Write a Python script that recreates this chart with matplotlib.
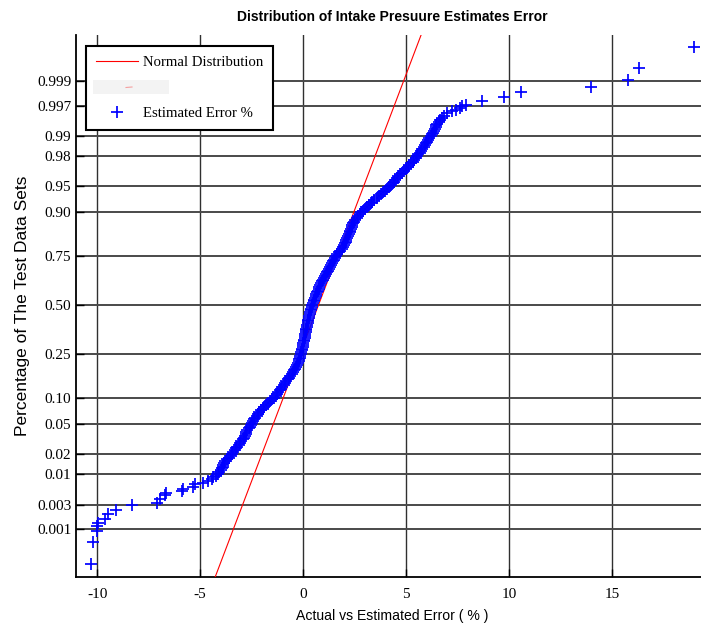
import math
import numpy as np
import matplotlib
matplotlib.use("Agg")
import matplotlib.pyplot as plt
from matplotlib import font_manager
from matplotlib.lines import Line2D
from matplotlib.patches import Rectangle
from matplotlib.ticker import NullLocator

# ---------------------------------------------------------------------------
# Data: sorted estimate errors (%) with their standard normal scores
# ---------------------------------------------------------------------------
# Normal distribution fitted to the errors
fit_mean = 0.75
fit_std = 1.34

# Sparse lower tail
lower_tail_err = [-10.29, -10.18, -10.03, -9.99, -9.95, -9.60, -9.47, -9.11,
                  -8.33, -7.09, -6.93, -6.72, -6.65, -5.90, -5.84, -5.36,
                  -5.23, -4.87, -4.60, -4.42]
lower_tail_score = [-3.56, -3.26, -3.11, -3.05, -3.00, -2.94, -2.88, -2.82,
                    -2.76, -2.72, -2.67, -2.62, -2.59, -2.56, -2.54, -2.50,
                    -2.47, -2.45, -2.43, -2.40]

# Dense body of the sample
band_score = [
    -2.375, -2.350, -2.325, -2.300, -2.275, -2.250, -2.225, -2.200, -2.175,
    -2.150, -2.125, -2.100, -2.075, -2.050, -2.025, -2.000, -1.975, -1.950,
    -1.925, -1.900, -1.875, -1.850, -1.825, -1.800, -1.775, -1.750, -1.725,
    -1.700, -1.675, -1.650, -1.625, -1.600, -1.575, -1.550, -1.525, -1.500,
    -1.475, -1.450, -1.425, -1.400, -1.375, -1.350, -1.325, -1.300, -1.275,
    -1.250, -1.225, -1.200, -1.175, -1.150, -1.125, -1.100, -1.075, -1.050,
    -1.025, -1.000, -0.975, -0.950, -0.925, -0.900, -0.875, -0.850, -0.825,
    -0.800, -0.775, -0.750, -0.725, -0.700, -0.675, -0.650, -0.625, -0.600,
    -0.575, -0.550, -0.525, -0.500, -0.475, -0.450, -0.425, -0.400, -0.375,
    -0.350, -0.325, -0.300, -0.275, -0.250, -0.225, -0.200, -0.175, -0.150,
    -0.125, -0.100, -0.075, -0.050, -0.025, 0.000, 0.025, 0.050, 0.075,
    0.100, 0.125, 0.150, 0.175, 0.200, 0.225, 0.250, 0.275, 0.300,
    0.325, 0.350, 0.375, 0.400, 0.425, 0.450, 0.475, 0.500, 0.525,
    0.550, 0.575, 0.600, 0.625, 0.650, 0.675, 0.700, 0.725, 0.750,
    0.775, 0.800, 0.825, 0.850, 0.875, 0.900, 0.925, 0.950, 0.975,
    1.000, 1.025, 1.050, 1.075, 1.100, 1.125, 1.150, 1.175, 1.200,
    1.225, 1.250, 1.275, 1.300, 1.325, 1.350, 1.375, 1.400, 1.425,
    1.450, 1.475, 1.500, 1.525, 1.550, 1.575, 1.600, 1.625, 1.650,
    1.675, 1.700, 1.725, 1.750, 1.775, 1.800, 1.825, 1.850, 1.875,
    1.900, 1.925, 1.950, 1.975, 2.000, 2.025, 2.050, 2.075, 2.100,
    2.125, 2.150, 2.175, 2.200, 2.225, 2.250, 2.275, 2.300, 2.325,
    2.350, 2.375, 2.400, 2.425, 2.450, 2.475, 2.500, 2.525, 2.550,
    2.575]
band_err = [
    -4.37, -4.25, -4.14, -4.06, -3.99, -3.95, -3.91, -3.87, -3.83,
    -3.77, -3.68, -3.60, -3.52, -3.44, -3.38, -3.32, -3.26, -3.20,
    -3.13, -3.07, -3.00, -2.94, -2.89, -2.84, -2.79, -2.75, -2.71,
    -2.65, -2.58, -2.51, -2.46, -2.42, -2.37, -2.33, -2.26, -2.19,
    -2.12, -2.05, -1.97, -1.89, -1.81, -1.70, -1.59, -1.49, -1.39,
    -1.32, -1.26, -1.20, -1.13, -1.07, -1.00, -0.94, -0.88, -0.81,
    -0.75, -0.68, -0.62, -0.56, -0.50, -0.44, -0.39, -0.34, -0.28,
    -0.23, -0.21, -0.19, -0.16, -0.14, -0.12, -0.10, -0.07, -0.05,
    -0.02, 0.00, 0.02, 0.04, 0.06, 0.08, 0.09, 0.11, 0.13,
    0.15, 0.16, 0.18, 0.20, 0.22, 0.23, 0.25, 0.27, 0.30,
    0.32, 0.35, 0.37, 0.39, 0.42, 0.44, 0.48, 0.51, 0.55,
    0.58, 0.62, 0.65, 0.69, 0.72, 0.76, 0.79, 0.83, 0.88,
    0.92, 0.97, 1.01, 1.05, 1.10, 1.14, 1.19, 1.24, 1.29,
    1.35, 1.40, 1.45, 1.50, 1.55, 1.60, 1.67, 1.74, 1.81,
    1.88, 1.95, 1.99, 2.03, 2.07, 2.11, 2.15, 2.19, 2.23,
    2.26, 2.30, 2.33, 2.37, 2.40, 2.44, 2.47, 2.52, 2.60,
    2.67, 2.75, 2.83, 2.92, 3.01, 3.10, 3.19, 3.28, 3.37,
    3.47, 3.57, 3.67, 3.78, 3.88, 3.98, 4.09, 4.19, 4.28,
    4.35, 4.42, 4.48, 4.55, 4.62, 4.72, 4.82, 4.90, 4.99,
    5.08, 5.16, 5.25, 5.32, 5.39, 5.47, 5.54, 5.60, 5.67,
    5.73, 5.80, 5.86, 5.92, 5.98, 6.04, 6.09, 6.14, 6.20,
    6.25, 6.29, 6.34, 6.39, 6.45, 6.48, 6.53, 6.59, 6.66,
    6.74]

# Sparse upper tail
upper_tail_err = [6.83, 6.99, 7.23, 7.44, 7.60, 7.72, 7.93, 8.69, 9.77,
                  10.60, 13.98, 15.78, 16.34, 18.99]
upper_tail_score = [2.61, 2.64, 2.67, 2.69, 2.71, 2.74, 2.76, 2.81, 2.86,
                    2.93, 3.00, 3.10, 3.26, 3.55]

prob_ticks = [0.001, 0.003, 0.01, 0.02, 0.05, 0.10, 0.25, 0.50, 0.75, 0.90,
              0.95, 0.98, 0.99, 0.997, 0.999]
prob_tick_labels = ['0.001', '0.003', '0.01', '0.02', '0.05', '0.10', '0.25',
                    '0.50', '0.75', '0.90', '0.95', '0.98', '0.99', '0.997',
                    '0.999']
err_ticks = [-10, -5, 0, 5, 10, 15]
err_tick_labels = ['-10', '-5', '0', '5', '10', '15']

# ---------------------------------------------------------------------------
# Normal probability (probit) scale
# ---------------------------------------------------------------------------
_A = [-3.969683028665376e+01, 2.209460984245205e+02, -2.759285104469687e+02,
      1.383577518672690e+02, -3.066479806614716e+01, 2.506628277459239e+00]
_B = [-5.447609879822406e+01, 1.615858368580409e+02, -1.556989798598866e+02,
      6.680131188771972e+01, -1.328068155288572e+01]
_C = [-7.784894002430293e-03, -3.223964580411365e-01, -2.400758277161838e+00,
      -2.549732539343734e+00, 4.374664141464968e+00, 2.938163982698783e+00]
_D = [7.784695709041462e-03, 3.224671290700398e-01, 2.445134137142996e+00,
      3.754408661907416e+00]
_P_LOW = 0.02425


def _tail(q):
    num = ((((_C[0] * q + _C[1]) * q + _C[2]) * q + _C[3]) * q + _C[4]) * q + _C[5]
    den = (((_D[0] * q + _D[1]) * q + _D[2]) * q + _D[3]) * q + 1.0
    return num / den


def norm_ppf(p):
    arr = np.asarray(p, dtype=float)
    shape = arr.shape
    p1 = np.clip(np.atleast_1d(arr).ravel(), 1e-12, 1 - 1e-12)
    z = np.empty_like(p1)
    lo = p1 < _P_LOW
    hi = p1 > 1 - _P_LOW
    mid = ~(lo | hi)
    z[lo] = _tail(np.sqrt(-2.0 * np.log(p1[lo])))
    z[hi] = -_tail(np.sqrt(-2.0 * np.log(1.0 - p1[hi])))
    q = p1[mid] - 0.5
    r = q * q
    num = (((((_A[0] * r + _A[1]) * r + _A[2]) * r + _A[3]) * r + _A[4]) * r + _A[5]) * q
    den = ((((_B[0] * r + _B[1]) * r + _B[2]) * r + _B[3]) * r + _B[4]) * r + 1.0
    z[mid] = num / den
    return z.reshape(shape)


_erf = np.vectorize(math.erf, otypes=[float])


def norm_cdf(z):
    arr = np.asarray(z, dtype=float)
    arr = np.nan_to_num(arr, nan=0.0, posinf=40.0, neginf=-40.0)
    return 0.5 * (1.0 + _erf(arr / math.sqrt(2.0)))


# ---------------------------------------------------------------------------
# Fonts
# ---------------------------------------------------------------------------
def _has_font(name):
    try:
        font_manager.findfont(font_manager.FontProperties(family=name),
                              fallback_to_default=False)
        return True
    except Exception:
        return False


if _has_font('Liberation Sans Narrow'):
    narrow_family = ['Liberation Sans Narrow', 'DejaVu Sans']
    title_size, xlabel_size = 12.2, 12.3
else:
    narrow_family = ['Liberation Sans', 'DejaVu Sans']
    title_size, xlabel_size = 10.0, 10.1
sans_family = ['Liberation Sans', 'DejaVu Sans']
serif_family = ['Liberation Serif', 'DejaVu Serif']

# ---------------------------------------------------------------------------
# Figure
# ---------------------------------------------------------------------------
W, H = 701, 628
fig = plt.figure(figsize=(W / 100, H / 100), dpi=100)
fig.patch.set_facecolor('white')
ax = fig.add_axes([76 / W, 51 / H, 633 / W, 542 / H])

ax.set_yscale('function', functions=(norm_ppf, norm_cdf))
p_lo, p_hi = 0.00009, 0.9999
ax.set_xlim(-11.03, 19.72)
ax.set_ylim(p_lo, p_hi)

# fitted normal line across the whole probability range
fit_x = [fit_mean + fit_std * float(norm_ppf(p_lo)),
         fit_mean + fit_std * float(norm_ppf(p_hi))]
ax.plot(fit_x, [p_lo, p_hi], color='red', lw=0.8, zorder=3)

marker_kw = dict(linestyle='none', marker='+', color='#0000ff',
                 markersize=8.5, markeredgewidth=1.25, zorder=4)
ax.plot(lower_tail_err, norm_cdf(lower_tail_score), **marker_kw)
ax.plot(band_err, norm_cdf(band_score), **marker_kw)
ax.plot(upper_tail_err, norm_cdf(upper_tail_score), **marker_kw)

# ticks and grid
ax.set_yticks(prob_ticks)
ax.set_yticklabels(prob_tick_labels)
ax.yaxis.set_minor_locator(NullLocator())
ax.set_xticks(err_ticks)
ax.set_xticklabels(err_tick_labels)
ax.xaxis.set_minor_locator(NullLocator())
ax.tick_params(axis='both', direction='in', length=6, width=1.0,
               color='black', labelsize=11)
ax.tick_params(axis='x', pad=8)
ax.tick_params(axis='y', pad=3.5)
for lab in ax.get_xticklabels() + ax.get_yticklabels():
    lab.set_family(serif_family)

ax.grid(True, axis='y', color='#4a4a4a', lw=1.4, zorder=1)
ax.grid(True, axis='x', color='#303030', lw=1.0, zorder=1)
ax.set_axisbelow(True)

for side in ('top', 'right'):
    ax.spines[side].set_visible(False)
for side in ('left', 'bottom'):
    ax.spines[side].set_linewidth(1.3)
    ax.spines[side].set_color('black')

ax.set_title('Distribution of Intake Presuure Estimates Error',
             family=narrow_family, fontsize=title_size, fontweight='bold',
             pad=10)
ax.set_xlabel('Actual vs Estimated Error ( % )', family=narrow_family,
              fontsize=xlabel_size, labelpad=6)
ax.set_ylabel('Percentage of The Test Data Sets', family=sans_family,
              fontsize=12.5)
ax.yaxis.set_label_coords(-0.072, 0.5)

# legend
handles = [Line2D([], [], color='red', lw=0.8),
           Line2D([], [], linestyle='none'),
           Line2D([], [], linestyle='none', marker='+', color='#0000ff',
                  markersize=8.5, markeredgewidth=1.25)]
labels = ['Normal Distribution', ' ', 'Estimated Error %']
leg = ax.legend(handles, labels, loc='upper left',
                bbox_to_anchor=(10 / 633, (577 - 46) / 542),
                borderaxespad=0, frameon=True, fancybox=False,
                edgecolor='black', facecolor='white', framealpha=1,
                prop=font_manager.FontProperties(family=serif_family, size=10.6),
                handlelength=2.86, handletextpad=0.34, labelspacing=0.84,
                borderpad=0.66)
leg.get_frame().set_linewidth(1.5)
leg.set_zorder(5)

# faint blank entry inside the legend box
fig.add_artist(Rectangle((93 / W, 1 - 94 / H), 76 / W, 14 / H,
                         transform=fig.transFigure, facecolor='#f3f3f3',
                         edgecolor='none', zorder=6))
fig.add_artist(Line2D([126 / W, 132 / W], [1 - 87.5 / H, 1 - 87 / H],
                      transform=fig.transFigure, color='#f4a0a0', lw=0.8,
                      zorder=7))

fig.savefig('out.png', dpi=100, facecolor='white')
